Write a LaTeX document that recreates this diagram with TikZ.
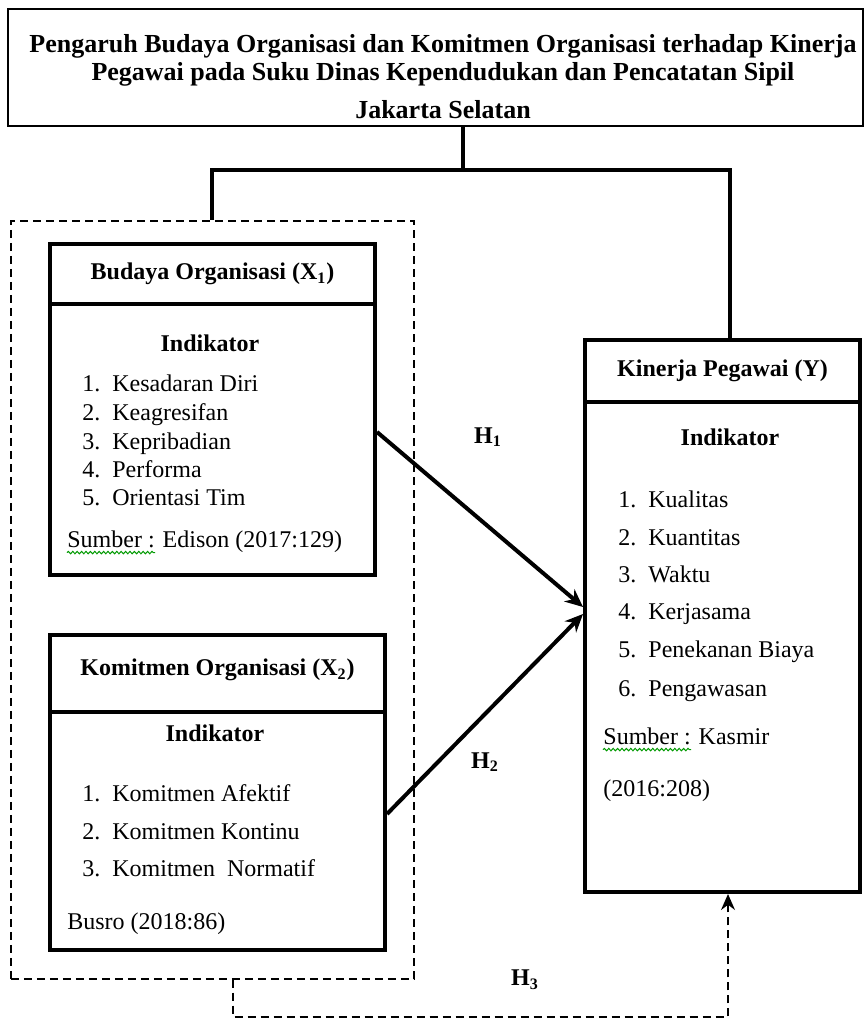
\documentclass[tikz,border=0pt]{standalone}
\usepackage{fontspec}
\setmainfont{Liberation Serif}
\usetikzlibrary{arrows.meta,positioning,decorations.pathmorphing}

\begin{document}
\begin{tikzpicture}[x=0.5pt,y=-0.5pt,>={Stealth[length=9pt,width=8pt]},
        font=\fontsize{12}{14}\selectfont,
        kotak/.style={draw,line width=2pt,inner sep=0pt,anchor=north west,font=\fontsize{12}{14}\selectfont\bfseries},
        grup/.style={draw,dash pattern=on 4pt off 2.5pt,line width=0.8pt,inner sep=0pt,anchor=north west},
        butir/.style={inner sep=0pt,anchor=mid west},
        tebal/.style={inner sep=0pt,font=\fontsize{12}{14}\selectfont\bfseries},
        garis/.style={line width=1.6pt},
        panah/.style={line width=2pt,->},
        putus/.style={dash pattern=on 4pt off 2.5pt,line width=0.8pt,-{Stealth[length=8pt,width=7pt]}},
        ejaan/.style={draw=green!60!black,line width=0.5pt,decorate,
            decoration={snake,amplitude=0.6pt,segment length=2.2pt}}]

                \useasboundingbox (0,0) rectangle (864,1020);

                % judul
                \node[draw,line width=1pt,anchor=north west,minimum width=427.5pt,minimum height=58.5pt] (judul) at (7,8) {};
                \node[tebal,align=center,font=\fontsize{13}{14}\selectfont\bfseries] (judulteks) at (443,77) {Pengaruh Budaya Organisasi dan Komitmen Organisasi terhadap Kinerja\\ Pegawai pada Suku Dinas Kependudukan dan Pencatatan Sipil\\[5pt] Jakarta Selatan};

                % X1 dan X2
                \node[grup,minimum width=201.5pt,minimum height=379pt] (grup) at (10,220) {};

                \node[kotak,minimum width=162.5pt,minimum height=30pt] (budaya) at (48,242) {Budaya Organisasi (X\textsubscript{1})};
                \node[kotak,minimum width=162.5pt,minimum height=135.5pt] (budbody) at (48,302) {};
                \node[tebal] (budind) at (210,343) {Indikator};
                \foreach \y/\t [count=\n] in {387/Kesadaran Diri, 416/Keagresifan, 445/Kepribadian, 473/Performa, 501/Orientasi Tim}
                    {
                    \node[butir] (bud\n) at (82,\y) {\makebox[15pt][l]{\n.}\t};
                    }
                \node[butir] (budsumber) at (67,543) {Sumber : Edison (2017:129)};

                \node[kotak,minimum width=167.5pt,minimum height=38.5pt,text depth=6pt] (komitmen) at (48,633) {Komitmen Organisasi (X\textsubscript{2})};
                \node[kotak,minimum width=167.5pt,minimum height=119pt] (kombody) at (48,710) {};
                \node[tebal] (komind) at (215,733) {Indikator};
                \foreach \y/\t [count=\n] in {797/Komitmen Afektif, 835/Komitmen Kontinu, 872/Komitmen~ Normatif}
                    {
                    \node[butir] (kom\n) at (82,\y) {\makebox[15pt][l]{\n.}\t};
                    }
                \node[butir] (komsumber) at (67,925) {Busro (2018:86)};

                % Y
                \node[kotak,minimum width=137.5pt,minimum height=31pt] (kinerja) at (583,338) {Kinerja Pegawai (Y)};
                \node[kotak,minimum width=137.5pt,minimum height=245pt] (kinbody) at (583,400) {};
                \node[tebal] (kinind) at (730,437) {Indikator};
                \foreach \y/\t [count=\n] in {503/Kualitas, 541/Kuantitas, 578/Waktu, 615/Kerjasama, 653/Penekanan Biaya, 692/Pengawasan}
                    {
                    \node[butir] (kin\n) at (618,\y) {\makebox[15pt][l]{\n.}\t};
                    }
                \node[butir] (kinsumber) at (603,740) {Sumber : Kasmir};
                \node[butir] (kintahun) at (603,792) {(2016:208)};

                % garis bawah ejaan
                \draw[ejaan] ([yshift=-2.5pt]budsumber.base west) -- ++(88,0);
                \draw[ejaan] ([yshift=-2.5pt]kinsumber.base west) -- ++(88,0);

                % penghubung judul
                \coordinate (cabang) at (463,170);
                \coordinate (kiri) at (212,170);
                \coordinate (kanan) at (730,170);
                \draw[garis] (judul.south -| cabang) -- (cabang);
                \draw[garis] (kiri |- grup.north) -- (kiri) -- (kanan) -- (kanan |- kinerja.north);

                % hipotesis
                \draw[panah] ([yshift=3.75pt]budbody.east) -- ([yshift=20pt]kinbody.west);
                \draw[panah] ([yshift=8.5pt]kombody.east) -- ([yshift=16.5pt]kinbody.west);

                \coordinate (h3kiri) at (233,1017);
                \coordinate (h3kanan) at (728,1017);
                \draw[putus] (h3kiri |- grup.south) -- (h3kiri) -- (h3kanan) -- (h3kanan |- kinbody.south);

                \node[tebal] (h1) at (488,437) {H\textsubscript{1}};
                \node[tebal] (h2) at (485,762) {H\textsubscript{2}};
                \node[tebal] (h3) at (525,980) {H\textsubscript{3}};

            \end{tikzpicture}
\end{document}
